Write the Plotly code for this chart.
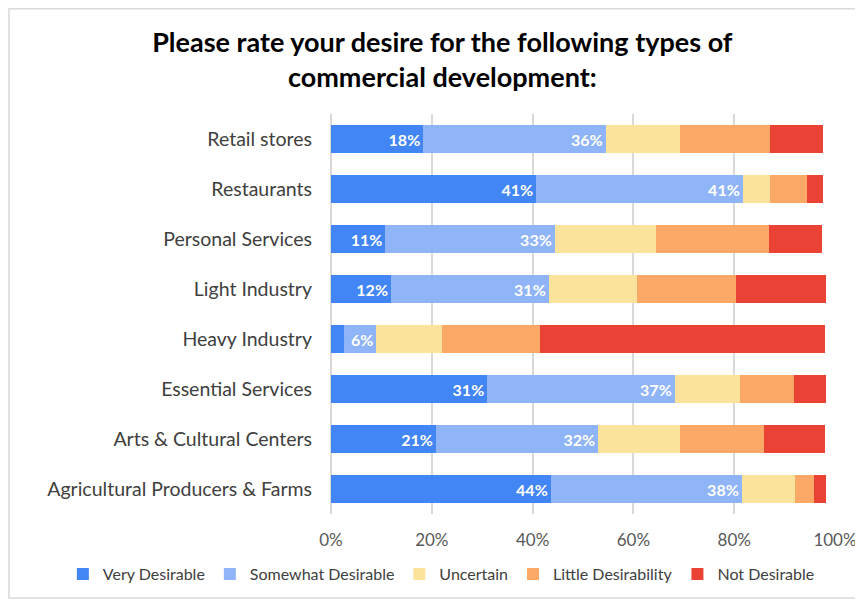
import plotly.graph_objects as go

categories = ["Retail stores", "Restaurants", "Personal Services", "Light Industry",
              "Heavy Industry", "Essential Services", "Arts & Cultural Centers",
              "Agricultural Producers & Farms"]
series_names = ["Very Desirable", "Somewhat Desirable", "Uncertain",
                "Little Desirability", "Not Desirable"]
very = [18.3, 40.7, 10.8, 11.9, 2.5, 31.0, 20.8, 43.6]
somewhat = [36.2, 41.0, 33.6, 31.3, 6.5, 37.2, 32.2, 37.9]
uncertain = [14.7, 5.5, 20.1, 17.5, 13.0, 12.9, 16.3, 10.5]
little = [18.0, 7.2, 22.5, 19.6, 19.4, 10.7, 16.7, 3.8]
notdes = [10.5, 3.3, 10.5, 17.9, 56.6, 6.5, 12.0, 2.5]
very_labels = ["18%", "41%", "11%", "12%", "", "31%", "21%", "44%"]
somewhat_labels = ["36%", "41%", "33%", "31%", "6%", "37%", "32%", "38%"]
tick_vals = [0, 20, 40, 60, 80, 100]
tick_text = ["0%", "20%", "40%", "60%", "80%", "100%"]

colors = ["#4285F4", "#8FB4F8", "#FBE39C", "#FCA866", "#EA4335"]
values = [very, somewhat, uncertain, little, notdes]
labels = [very_labels, somewhat_labels, None, None, None]

FONT = "Lato"
fig = go.Figure()
for name, vals, col, lab in zip(series_names, values, colors, labels):
    kw = {}
    if lab is not None:
        kw = dict(text=lab, textposition="inside", insidetextanchor="end",
                  constraintext="none",
                  textfont=dict(color="white", size=16, family=FONT, weight="bold"))
    fig.add_trace(go.Bar(y=categories, x=vals, name=name, orientation="h",
                         marker=dict(color=col, line=dict(width=0)),
                         hoverinfo="x+y+name", **kw))

fig.update_layout(
    width=855, height=592,
    barmode="stack", bargap=0.445,
    paper_bgcolor="white", plot_bgcolor="white",
    margin=dict(l=323, r=28, t=106, b=86, autoexpand=False),
    font=dict(family=FONT, size=18, color="#404040"),
    title=dict(text="Please rate your desire for the following types of<br>commercial development:",
               x=0.508, xanchor="center", y=0.926, yanchor="middle",
               yref="container",
               font=dict(family=FONT, size=27, color="black", weight="bold")),
    xaxis=dict(range=[0, 100], tickvals=tick_vals, ticktext=tick_text,
               showgrid=True, gridcolor="#D9D9D9", gridwidth=1.5,
               zeroline=True, zerolinecolor="#D9D9D9", zerolinewidth=1.5,
               tickfont=dict(size=17, color="#595959"), ticks="", showline=False,
               automargin=False, ticklabelstandoff=14),
    yaxis=dict(autorange="reversed", ticks="", showgrid=False, automargin=False,
               tickfont=dict(size=19.5, color="#404040"), ticklabelstandoff=18),
    legend=dict(orientation="h", xref="paper", yref="paper",
                x=-0.532, xanchor="left", y=-0.15, yanchor="middle",
                font=dict(size=16, color="#404040"), traceorder="normal",
                itemwidth=30),
    shapes=[dict(type="rect", xref="paper", yref="paper",
                 x0=-0.639, x1=1.049, y0=-0.21, y1=1.263,
                 line=dict(color="#D9D9D9", width=1.5), fillcolor="rgba(0,0,0,0)",
                 layer="below")],
)

fig.write_html("out.html")
